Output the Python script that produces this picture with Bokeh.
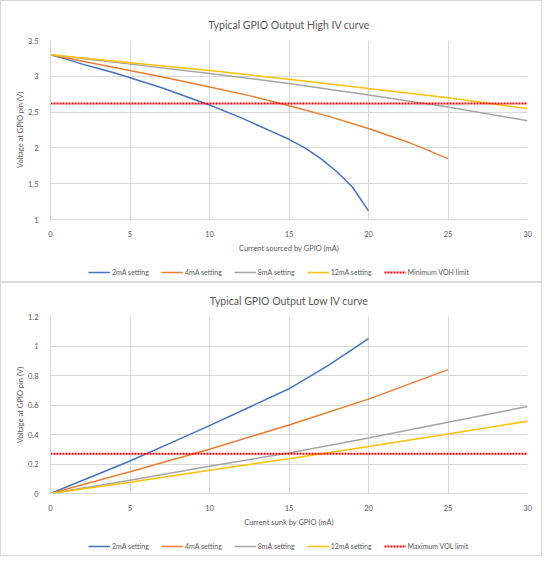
from bokeh.plotting import figure
from bokeh.layouts import column
from bokeh.models import Legend, LegendItem, FixedTicker, NumeralTickFormatter
from bokeh.embed import file_html
from bokeh.resources import INLINE

# 高电平输出 IV 曲线 (电流 mA, 电压 V)
high_2ma_x = [0, 1, 2, 3, 4, 5, 6, 7, 8, 9, 10, 11, 12, 13, 14, 15, 16, 17, 18, 19, 20]
high_2ma_y = [3.30, 3.24, 3.17, 3.11, 3.05, 2.98, 2.91, 2.84, 2.76, 2.68, 2.60,
              2.51, 2.42, 2.32, 2.22, 2.12, 2.00, 1.85, 1.67, 1.45, 1.12]
high_4ma_x = [0, 2.5, 5, 7.5, 10, 12.5, 15, 17.5, 20, 22.5, 25]
high_4ma_y = [3.30, 3.19, 3.08, 2.97, 2.85, 2.73, 2.59, 2.44, 2.27, 2.08, 1.85]
high_8ma_x = [0, 5, 10, 15, 20, 25, 30]
high_8ma_y = [3.30, 3.17, 3.04, 2.90, 2.74, 2.57, 2.38]
high_12ma_x = [0, 5, 10, 15, 20, 25, 30]
high_12ma_y = [3.30, 3.19, 3.08, 2.96, 2.83, 2.70, 2.55]
voh_min = 2.62

# 低电平输出 IV 曲线
low_2ma_x = [0, 2.5, 5, 7.5, 10, 12.5, 15, 17.5, 20]
low_2ma_y = [0, 0.11, 0.22, 0.34, 0.46, 0.585, 0.71, 0.87, 1.05]
low_4ma_x = [0, 5, 10, 15, 20, 25]
low_4ma_y = [0, 0.147, 0.30, 0.465, 0.64, 0.84]
low_8ma_x = [0, 5, 10, 15, 20, 25, 30]
low_8ma_y = [0, 0.09, 0.185, 0.275, 0.377, 0.483, 0.59]
low_12ma_x = [0, 5, 10, 15, 20, 25, 30]
low_12ma_y = [0, 0.077, 0.157, 0.236, 0.319, 0.403, 0.49]
vol_max = 0.27

x_ticks = [0, 5, 10, 15, 20, 25, 30]
high_y_ticks = [1, 1.5, 2, 2.5, 3, 3.5]
low_y_ticks = [0, 0.2, 0.4, 0.6, 0.8, 1, 1.2]

names = ["2mA setting", "4mA setting", "8mA setting", "12mA setting"]
colors = ["#4472C4", "#ED7D31", "#A5A5A5", "#FFC000"]
FONT = "Lato"
TXT = "#595959"
GRID = "#D9D9D9"
LIMIT_STYLE = dict(line_color="#FF0000", line_width=2, line_dash="2 1")


def make_chart(title, xlabel, series, limit, y_range, y_ticks, height, top, bottom):
    p = figure(title=title, x_range=(0, 30), y_range=y_range,
               width=540, height=height,
               min_border_left=49, min_border_right=14,
               min_border_top=top, min_border_bottom=bottom,
               output_backend="svg", toolbar_location=None)
    p.title.align = "center"
    p.title.text_font = FONT
    p.title.text_font_style = "normal"
    p.title.text_font_size = "10.5px"
    p.title.text_color = TXT
    p.title.standoff = 19
    p.outline_line_color = None

    for (xs, ys), c in zip(series, colors):
        p.line(xs, ys, line_color=c, line_width=1.5)
    p.line([0, 30], [limit, limit], **LIMIT_STYLE)

    p.xaxis.axis_label = xlabel
    p.yaxis.axis_label = "Voltage at GPIO pin (V)"
    p.xaxis.ticker = FixedTicker(ticks=x_ticks)
    p.yaxis.ticker = FixedTicker(ticks=y_ticks)
    p.yaxis.formatter = NumeralTickFormatter(format="0.[0]")
    for ax in [p.xaxis, p.yaxis]:
        ax.axis_line_color = GRID
        ax.major_tick_line_color = None
        ax.minor_tick_line_color = None
        ax.major_label_text_font = FONT
        ax.major_label_text_font_size = "7.5px"
        ax.major_label_text_color = TXT
        ax.axis_label_text_font = FONT
        ax.axis_label_text_font_size = "7.5px"
        ax.axis_label_text_font_style = "normal"
        ax.axis_label_text_color = TXT
    p.xaxis.axis_label_standoff = 4
    p.yaxis.axis_label_standoff = 0
    p.yaxis.major_label_standoff = 6
    p.xgrid.grid_line_color = GRID
    p.ygrid.grid_line_color = GRID
    return p


def make_legend(series, limit, limit_label):
    # 单独的一条小图放图例（侧边图例在这里排版会出错）；线画在可视范围外
    q = figure(width=540, height=26, x_range=(0, 30), y_range=(100, 101),
               x_axis_location=None, y_axis_location=None,
               min_border=0, output_backend="svg", toolbar_location=None)
    q.grid.visible = False
    q.outline_line_color = None
    items = []
    for (xs, ys), name, c in zip(series, names, colors):
        r = q.line(xs, ys, line_color=c, line_width=1.5)
        items.append(LegendItem(label=name, renderers=[r]))
    r = q.line([0, 30], [limit, limit], **LIMIT_STYLE)
    items.append(LegendItem(label=limit_label, renderers=[r]))
    legend = Legend(items=items, orientation="horizontal", location=(38, 5))
    legend.label_text_font = FONT
    legend.label_text_font_size = "7px"
    legend.label_text_color = TXT
    legend.glyph_width = 22
    legend.glyph_height = 8
    legend.label_height = 8
    legend.spacing = 12
    legend.label_standoff = 2
    legend.border_line_color = None
    legend.background_fill_alpha = 0
    legend.padding = 2
    legend.margin = 0
    q.add_layout(legend)
    return q


high_series = [(high_2ma_x, high_2ma_y), (high_4ma_x, high_4ma_y),
               (high_8ma_x, high_8ma_y), (high_12ma_x, high_12ma_y)]
low_series = [(low_2ma_x, low_2ma_y), (low_4ma_x, low_4ma_y),
              (low_8ma_x, low_8ma_y), (low_12ma_x, low_12ma_y)]

p1 = make_chart("Typical GPIO Output High IV curve", "Current sourced by GPIO (mA)",
                high_series, voh_min, (1, 3.5), high_y_ticks, 254, 39, 28)
p2 = make_chart("Typical GPIO Output Low IV curve", "Current sunk by GPIO (mA)",
                low_series, vol_max, (0, 1.2), low_y_ticks, 246, 30, 29)

box = {"border": "1px solid #D9D9D9"}
top = column(p1, make_legend(high_series, voh_min, "Minimum VOH limit"), spacing=0, styles=box)
bottom = column(p2, make_legend(low_series, vol_max, "Maximum VOL limit"), spacing=0, styles=box)
p = column(top, bottom, spacing=0)
open("out.html", "w").write(file_html(p, INLINE))
